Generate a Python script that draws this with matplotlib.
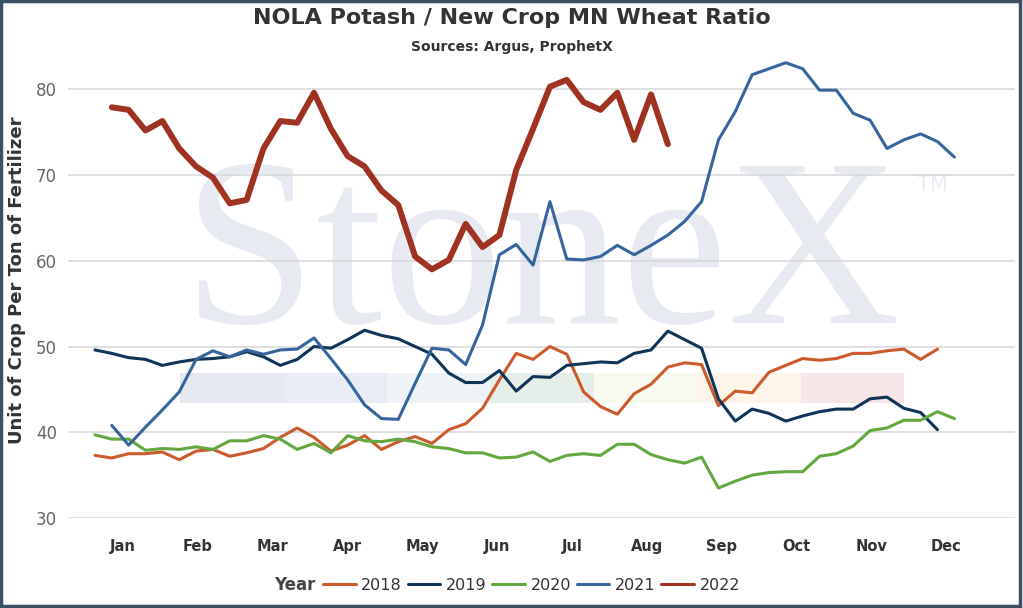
#!/usr/bin/python

import numpy as np
import matplotlib
matplotlib.use('Agg')
import matplotlib.pyplot as plt
from matplotlib.patches import Rectangle

# Weekly ratio values (week of year -> ratio)
weeks_2018 = np.arange(1, 52)
ratio_2018 = [37.3, 37.0, 37.5, 37.5, 37.7, 36.8, 37.8, 38.0, 37.2, 37.6,
              38.1, 39.4, 40.5, 39.4, 37.8, 38.5, 39.6, 38.0, 38.9, 39.5,
              38.7, 40.3, 41.0, 42.8, 46.1, 49.2, 48.5, 50.0, 49.1, 44.7,
              43.0, 42.1, 44.5, 45.6, 47.6, 48.1, 47.9, 43.1, 44.8, 44.6,
              47.0, 47.8, 48.6, 48.4, 48.6, 49.2, 49.2, 49.5, 49.7, 48.5,
              49.7]

weeks_2019 = np.arange(1, 52)
ratio_2019 = [49.6, 49.2, 48.7, 48.5, 47.8, 48.2, 48.5, 48.6, 48.8, 49.4,
              48.8, 47.8, 48.5, 50.0, 49.8, 50.8, 51.9, 51.3, 50.9, 50.0,
              49.1, 46.9, 45.8, 45.8, 47.2, 44.8, 46.5, 46.4, 47.8, 48.0,
              48.2, 48.1, 49.2, 49.6, 51.8, 50.8, 49.8, 43.9, 41.3, 42.7,
              42.2, 41.3, 41.9, 42.4, 42.7, 42.7, 43.9, 44.1, 42.8, 42.3,
              40.3]

weeks_2020 = np.arange(1, 53)
ratio_2020 = [39.7, 39.2, 39.2, 37.9, 38.1, 38.0, 38.3, 38.0, 39.0, 39.0,
              39.6, 39.2, 38.0, 38.7, 37.6, 39.6, 39.0, 38.9, 39.2, 38.9,
              38.3, 38.1, 37.6, 37.6, 37.0, 37.1, 37.7, 36.6, 37.3, 37.5,
              37.3, 38.6, 38.6, 37.4, 36.8, 36.4, 37.1, 33.5, 34.3, 35.0,
              35.3, 35.4, 35.4, 37.2, 37.5, 38.4, 40.2, 40.5, 41.4, 41.4,
              42.4, 41.6]

weeks_2021 = np.arange(2, 53)
ratio_2021 = [40.8, 38.5, 40.6, 42.6, 44.7, 48.5, 49.5, 48.8, 49.6, 49.1,
              49.6, 49.7, 51.0, 48.6, 46.1, 43.2, 41.6, 41.5, 45.7, 49.8,
              49.6, 47.9, 52.5, 60.7, 61.9, 59.5, 66.9, 60.2, 60.1, 60.5,
              61.8, 60.7, 61.8, 63.0, 64.6, 66.9, 74.1, 77.4, 81.7, 82.4,
              83.1, 82.4, 79.9, 79.9, 77.2, 76.4, 73.1, 74.1, 74.8, 73.9,
              72.1]

weeks_2022 = np.arange(2, 36)
ratio_2022 = [77.9, 77.6, 75.2, 76.3, 73.1, 71.0, 69.7, 66.7, 67.1, 73.1,
              76.3, 76.1, 79.6, 75.4, 72.2, 71.0, 68.2, 66.5, 60.5, 59.0,
              60.1, 64.3, 61.6, 63.0, 70.6, 75.4, 80.3, 81.1, 78.5, 77.6,
              79.6, 74.1, 79.4, 73.6]

months = ['Jan', 'Feb', 'Mar', 'Apr', 'May', 'Jun',
          'Jul', 'Aug', 'Sep', 'Oct', 'Nov', 'Dec']

series = [
    ('2018', weeks_2018, ratio_2018, '#cc5a2a', 2.2),
    ('2019', weeks_2019, ratio_2019, '#0e3557', 2.2),
    ('2020', weeks_2020, ratio_2020, '#62a83f', 2.2),
    ('2021', weeks_2021, ratio_2021, '#35659c', 2.2),
    ('2022', weeks_2022, ratio_2022, '#a03222', 4.3),
]

# faint coloured bar of the logo watermark
band_colors = ['#e5e8ee', '#e8edf5', '#eef3f8', '#e6eee9',
               '#f9faef', '#fdf5e8', '#f6e6e8']

W, H = 1023, 608
fig = plt.figure(figsize=(W / 100.0, H / 100.0), dpi=100)
fig.patch.set_facecolor('white')

ax = fig.add_axes([68.0 / W, 1 - 518.0 / H, 947.0 / W, 463.0 / H])
ax.set_xlim(-0.6, 55.6)
ax.set_ylim(30, 84)

# Watermark
ax.text(27.5, 52.7, 'StoneX', family='Liberation Serif', fontsize=172,
        color='#e7ebf1', ha='center', va='baseline', zorder=0.1)
ax.text(50.7, 68.8, 'TM', family='DejaVu Sans', fontsize=15,
        color='#e7ebf1', ha='center', va='center', zorder=0.1)
seg = 6.14
for i, c in enumerate(band_colors):
    ax.add_patch(Rectangle((6.05 + i * seg, 43.4), seg, 3.5,
                           facecolor=c, edgecolor='none', zorder=0.1))

# Lines
for label, wk, val, color, lw in series:
    ax.plot(wk, val, color=color, lw=lw, label=label,
            solid_joinstyle='round', solid_capstyle='round', zorder=3)

ax.set_yticks([30, 40, 50, 60, 70, 80])
ax.grid(axis='y', color='#d6d6d6', lw=1.1, zorder=0.5)
ax.set_axisbelow(True)
for s in ax.spines.values():
    s.set_visible(False)
ax.tick_params(axis='y', length=0, pad=8, labelsize=12, labelcolor='#666666')

ax.set_xticks(2.67 + 4.44 * np.arange(12))
ax.set_xticklabels(months, fontweight='bold', color='#333333', fontsize=10.5)
ax.tick_params(axis='x', length=0, pad=15)

# Titles
fig.text(512.0 / W, 1 - 18.0 / H, 'NOLA Potash / New Crop MN Wheat Ratio',
         ha='center', va='center', fontsize=16, fontweight='bold',
         color='#333333')
fig.text(512.0 / W, 1 - 47.0 / H, 'Sources: Argus, ProphetX',
         ha='center', va='center', fontsize=10, fontweight='bold',
         color='#333333')
fig.text(17.0 / W, 1 - 280.0 / H, 'Unit of Crop Per Ton of Fertilizer',
         ha='center', va='center', rotation=90, fontsize=13,
         fontweight='bold', color='#333333')

# Legend
fig.text(316.0 / W, 1 - 585.0 / H, 'Year', ha='right', va='center',
         fontsize=12, fontweight='bold', color='#444444')
handles, labels = ax.get_legend_handles_labels()
leg = ax.legend(handles, labels, loc='center left',
                bbox_to_anchor=(323.0 / W, 1 - 585.0 / H),
                bbox_transform=fig.transFigure, ncol=5, frameon=False,
                fontsize=11.5, handlelength=2.05, handletextpad=0.35,
                columnspacing=0.35, borderpad=0, borderaxespad=0)
for t in leg.get_texts():
    t.set_color('#333333')
for l in leg.get_lines():
    l.set_linewidth(2.2)

# outer frame
fig.patches.append(Rectangle((0.001, 0.003), 0.996, 0.995,
                             transform=fig.transFigure, fill=False,
                             edgecolor='#3b5266', lw=2.5))

fig.savefig('out.png', dpi=100, facecolor='white')
